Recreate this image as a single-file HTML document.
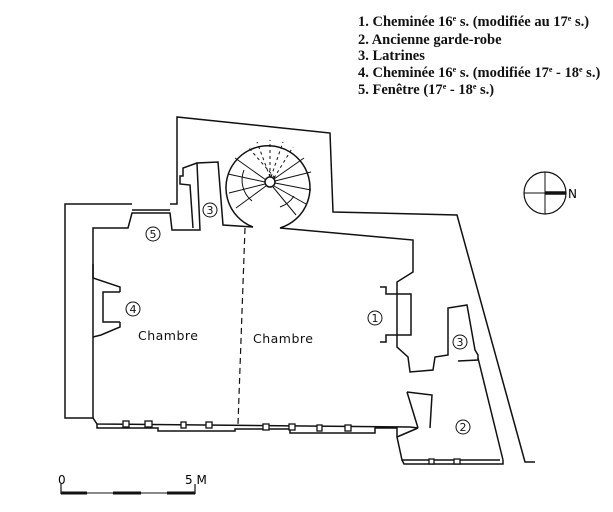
<!DOCTYPE html>
<html><head><meta charset="utf-8"><style>
html,body{margin:0;padding:0;background:#fff;}
svg{display:block}
.l{font-family:"Liberation Serif",serif;font-weight:bold;font-size:14.5px;fill:#111}
.s{font-family:"DejaVu Sans","Liberation Sans",sans-serif;font-size:12.5px;fill:#111;letter-spacing:0.5px}
.c{font-family:"DejaVu Sans","Liberation Sans",sans-serif;font-size:11px;fill:#111;text-anchor:middle}
</style></head><body>
<svg width="613" height="512" viewBox="0 0 613 512" xmlns="http://www.w3.org/2000/svg">
<g class="l">
<text x="358" y="26">1.  Cheminée 16<tspan font-size="8" dy="-5">e</tspan><tspan dy="5"> s. (modifiée au 17</tspan><tspan font-size="8" dy="-5">e</tspan><tspan dy="5"> s.)</tspan></text>
<text x="358" y="44">2.  Ancienne garde-robe</text>
<text x="358" y="60">3.  Latrines</text>
<text x="358" y="77">4.  Cheminée 16<tspan font-size="8" dy="-5">e</tspan><tspan dy="5"> s. (modifiée 17</tspan><tspan font-size="8" dy="-5">e</tspan><tspan dy="5"> - 18</tspan><tspan font-size="8" dy="-5">e</tspan><tspan dy="5"> s.)</tspan></text>
<text x="358" y="94">5.  Fenêtre (17<tspan font-size="8" dy="-5">e</tspan><tspan dy="5"> - 18</tspan><tspan font-size="8" dy="-5">e</tspan><tspan dy="5"> s.)</tspan></text>
</g>
<g fill="none" stroke="#111" stroke-width="1.5" stroke-linejoin="miter">
<polyline points="93,418 65,418 65,204 132,204"/>
<polyline points="170,204 177,204 177,117 330,133 333,212 457,215 525,462 535,462"/>
<line x1="132" y1="210" x2="170" y2="210"/>
<polyline points="93,418 93,228 128,228 132,213 170,213 172,230 200,230 197,163 218,162 223,225 253,227"/>
<polyline points="197,163 183,168 183,176 180,176 180,184 190,185 193,228"/>
<path d="M253,227 A42,42 0 1 1 280,228"/>
<polyline points="280,228 413,240 413,272 397,282 397,347 408,357 410,372 433,370 435,357 448,355 448,308 467,305 475,350 478,355 478,360 458,361"/>
<polyline points="380,287 386,287 386,294 411,294 411,335 386,335 386,342 380,342 z"/>
<polyline points="93,264 93,278 120,287 120,292"/>
<polyline points="120,322 120,327 101,335 93,337"/>
<polyline points="120,292 103,292 103,322 120,322"/>
<polyline points="407,392 432,395 430,428"/>
<line x1="407" y1="392" x2="418" y2="428"/>
<polyline points="93,418 97,424 410,427 418,428"/>
<polyline points="97,424 97,428 158,428 158,431 235,431 235,429 290,429 290,433 375,433 375,428 397,428 397,437 402,460 500,460"/>
<polyline points="402,460 404,464 503,464 503,460"/>
<line x1="478" y1="358" x2="503" y2="460"/>
<line x1="418" y1="428" x2="397" y2="437"/>
</g>
<g fill="#fff" stroke="#111" stroke-width="1.3">
<rect x="123" y="421" width="6" height="6"/><rect x="145" y="421" width="7" height="6"/>
<rect x="181" y="422" width="5" height="6"/><rect x="206" y="422" width="6" height="6"/>
<rect x="263" y="424" width="6" height="6"/><rect x="289" y="424" width="6" height="6"/>
<rect x="317" y="425" width="5" height="6"/><rect x="345" y="425" width="6" height="6"/>
<rect x="429" y="459" width="5" height="5"/><rect x="454" y="459" width="6" height="5"/>
</g>
<g stroke="#111" stroke-width="1" fill="none">
<circle cx="270" cy="182" r="5" stroke-width="1.5"/>
<g stroke-dasharray="3,3">
<line x1="275" y1="178" x2="248" y2="147"/><line x1="270" y1="177" x2="257" y2="142"/>
<line x1="270" y1="177" x2="270" y2="140"/><line x1="271" y1="177" x2="283" y2="142"/>
<line x1="274" y1="178" x2="293" y2="147"/>
</g>
<line x1="266" y1="180" x2="235" y2="158"/><line x1="265" y1="182" x2="228" y2="174"/>
<line x1="265" y1="184" x2="229" y2="193"/><line x1="266" y1="186" x2="236" y2="208"/>
<line x1="274" y1="179" x2="304" y2="158"/><line x1="275" y1="181" x2="311" y2="172"/>
<line x1="275" y1="183" x2="311" y2="190"/><line x1="274" y1="186" x2="306" y2="204"/>
<line x1="273" y1="187" x2="296" y2="215"/>
<path d="M244,170 A27,27 0 0 0 252,201"/><path d="M294,196 A27,27 0 0 1 280,207"/>
<line x1="245" y1="228" x2="238" y2="424" stroke-dasharray="6,4" stroke-width="1.2"/>
</g>
<text class="s" x="138" y="340">Chambre</text>
<text class="s" x="253" y="343">Chambre</text>
<g fill="none" stroke="#111" stroke-width="1">
<circle cx="153" cy="234" r="7"/><circle cx="210" cy="210" r="7"/><circle cx="133" cy="309" r="7"/>
<circle cx="375" cy="318" r="7"/><circle cx="460" cy="342" r="7"/><circle cx="463" cy="427" r="7"/>
</g>
<g class="c">
<text x="153" y="238">5</text><text x="210" y="214">3</text><text x="133" y="313">4</text>
<text x="375" y="322">1</text><text x="460" y="346">3</text><text x="463" y="431">2</text>
</g>
<g stroke="#111" fill="none">
<circle cx="545" cy="193" r="21" stroke-width="1.2"/>
<line x1="524" y1="193" x2="545" y2="193"/><line x1="545" y1="172" x2="545" y2="214"/>
<line x1="545" y1="193" x2="566" y2="193" stroke-width="3.5"/>
</g>
<text x="568" y="198" style="font-family:'DejaVu Sans',sans-serif;font-size:12px">N</text>
<g stroke="#111">
<line x1="61" y1="484" x2="61" y2="494" stroke-width="1.2"/>
<line x1="195" y1="484" x2="195" y2="494" stroke-width="1.2"/>
<line x1="61" y1="493" x2="87" y2="493" stroke-width="3"/>
<line x1="87" y1="493" x2="113" y2="493" stroke-width="1"/>
<line x1="113" y1="493" x2="141" y2="493" stroke-width="3"/>
<line x1="141" y1="493" x2="167" y2="493" stroke-width="1"/>
<line x1="167" y1="493" x2="195" y2="493" stroke-width="3"/>
</g>
<text x="58" y="484" style="font-family:'DejaVu Sans',sans-serif;font-size:12px">0</text>
<text x="185" y="484" style="font-family:'DejaVu Sans',sans-serif;font-size:12px">5 M</text>
</svg>
</body></html>
